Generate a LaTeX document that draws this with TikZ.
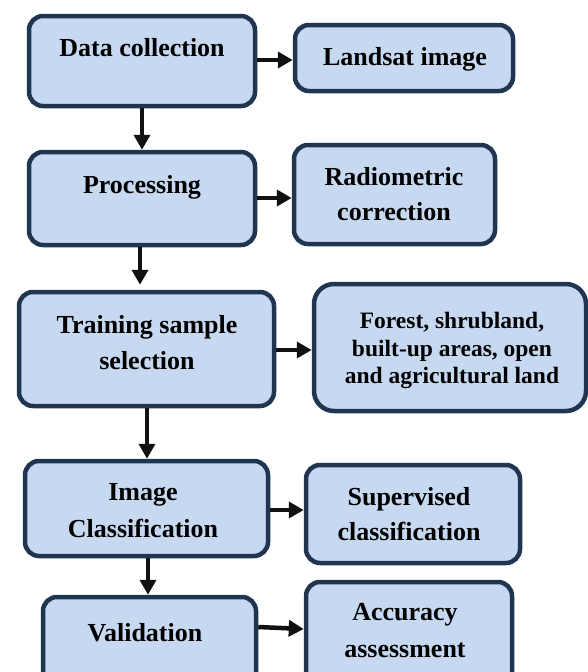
\documentclass[tikz,border=0pt]{standalone}
\usepackage{fontspec}
\setmainfont{Liberation Serif}
\usetikzlibrary{arrows.meta}
\definecolor{boxfill}{HTML}{C6D9F0}
\definecolor{boxline}{HTML}{1F3550}
\definecolor{arrowc}{HTML}{111111}
\begin{document}
\begin{tikzpicture}[x=1pt,y=-1pt,
  box/.style={draw=boxline, fill=boxfill, line width=4.5pt, rounded corners=14pt, inner sep=0pt},
  txt/.style={anchor=base, inner sep=0pt, font=\fontsize{26}{30}\selectfont\bfseries},
  stxt/.style={anchor=base, inner sep=0pt, font=\fontsize{23.5}{27}\selectfont\bfseries},
  arr/.style={draw=arrowc, line width=4.5pt, -{Triangle[length=15pt,width=16pt]}}]
\useasboundingbox (0,0) rectangle (588,672);
\clip (0,0) rectangle (588,672);
% boxes
\node[box, minimum width=226pt, minimum height=90pt] (dc) at (142,61) {};
\node[box, minimum width=218pt, minimum height=66pt] (ls) at (404,58) {};
\node[box, minimum width=226pt, minimum height=93pt] (pr) at (142,198.5) {};
\node[box, minimum width=201pt, minimum height=99pt] (rc) at (394.5,194.5) {};
\node[box, minimum width=255pt, minimum height=114pt] (ts) at (146.5,349) {};
\node[box, minimum width=272pt, minimum height=127pt, rounded corners=20pt] (fo) at (450,347.5) {};
\node[box, minimum width=243pt, minimum height=95pt] (ic) at (146.5,508.5) {};
\node[box, minimum width=214pt, minimum height=98pt] (sc) at (413,514) {};
\node[box, minimum width=213pt, minimum height=93pt] (va) at (149.5,643.5) {};
\node[box, minimum width=206pt, minimum height=108pt] (ac) at (409,636) {};
% texts
\node[txt] (t1) at (142,56) {Data collection};
\node[txt] (t2) at (405,65) {Landsat image};
\node[txt] (t3) at (142,193) {Processing};
\node[txt] (t4a) at (394,185) {Radiometric};
\node[txt] (t4b) at (394,220) {correction};
\node[txt] (t5a) at (147,333) {Training sample};
\node[txt] (t5b) at (147,369) {selection};
\node[stxt] (t6a) at (452,328) {Forest, shrubland,};
\node[stxt] (t6b) at (452,356) {built-up areas, open};
\node[stxt] (t6c) at (452,383) {and agricultural land};
\node[txt] (t7a) at (143,500) {Image};
\node[txt] (t7b) at (143,537) {Classification};
\node[txt] (t8a) at (409,505) {Supervised};
\node[txt] (t8b) at (409,540) {classification};
\node[txt] (t9) at (145,641) {Validation};
\node[txt] (t10a) at (405,620) {Accuracy};
\node[txt] (t10b) at (405,657) {assessment};
% horizontal arrows
\draw[arr] (dc.east |- 0,60) -- (ls.west |- 0,60);
\draw[arr] (pr.east |- 0,198) -- (rc.west |- 0,198);
\draw[arr] (ts.east |- 0,350) -- (fo.west |- 0,350);
\draw[arr] (ic.east |- 0,510) -- (sc.west |- 0,510);
\draw[arr] (va.east |- 0,627) -- (ac.west |- 0,629);
% vertical arrows
\draw[arr] (dc.south -| 142,0) -- (pr.north -| 142,0);
\draw[arr] (pr.south -| 140,0) -- ([yshift=5pt]ts.north -| 140,0);
\draw[arr] (ts.south -| 147,0) -- (ic.north -| 147,0);
\draw[arr] (ic.south -| 148,0) -- (va.north -| 148,0);
\end{tikzpicture}
\end{document}
